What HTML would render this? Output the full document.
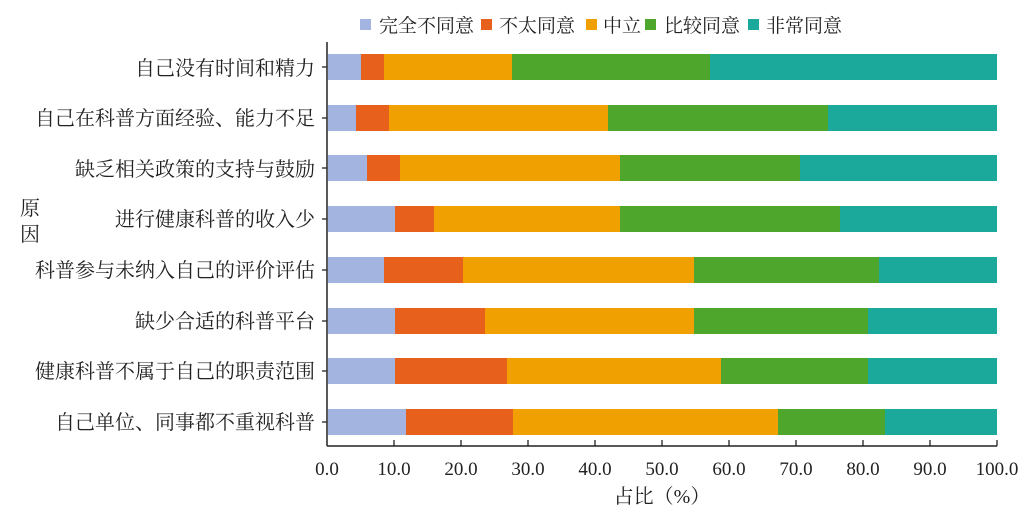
<!DOCTYPE html>
<html><head><meta charset="utf-8"><style>
body{margin:0;background:#fff;}
svg text{font-family:"Liberation Serif","Noto Serif CJK SC",serif;fill:#222;}
</style></head><body>
<svg width="1026" height="519" viewBox="0 0 1026 519" xmlns="http://www.w3.org/2000/svg">
<g font-size="19">
<rect x="360" y="19" width="11" height="11" fill="#a3b4e0"/><text x="379" y="32">完全不同意</text>
<rect x="481" y="19" width="11" height="11" fill="#e8611c"/><text x="499" y="32">不太同意</text>
<rect x="586" y="19" width="11" height="11" fill="#f0a000"/><text x="603" y="32">中立</text>
<rect x="645" y="19" width="11" height="11" fill="#4ea72c"/><text x="664" y="32">比较同意</text>
<rect x="748" y="19" width="11" height="11" fill="#1aa99a"/><text x="766" y="32">非常同意</text>
</g>
<g>
<rect x="328" y="54" width="33" height="26" fill="#a3b4e0"/><rect x="361" y="54" width="23" height="26" fill="#e8611c"/><rect x="384" y="54" width="128" height="26" fill="#f0a000"/><rect x="512" y="54" width="198" height="26" fill="#4ea72c"/><rect x="710" y="54" width="287" height="26" fill="#1aa99a"/>
<rect x="328" y="105" width="28" height="26" fill="#a3b4e0"/><rect x="356" y="105" width="33" height="26" fill="#e8611c"/><rect x="389" y="105" width="219" height="26" fill="#f0a000"/><rect x="608" y="105" width="220" height="26" fill="#4ea72c"/><rect x="828" y="105" width="169" height="26" fill="#1aa99a"/>
<rect x="328" y="155" width="39" height="26" fill="#a3b4e0"/><rect x="367" y="155" width="33" height="26" fill="#e8611c"/><rect x="400" y="155" width="220" height="26" fill="#f0a000"/><rect x="620" y="155" width="180" height="26" fill="#4ea72c"/><rect x="800" y="155" width="197" height="26" fill="#1aa99a"/>
<rect x="328" y="206" width="67" height="26" fill="#a3b4e0"/><rect x="395" y="206" width="39" height="26" fill="#e8611c"/><rect x="434" y="206" width="186" height="26" fill="#f0a000"/><rect x="620" y="206" width="220" height="26" fill="#4ea72c"/><rect x="840" y="206" width="157" height="26" fill="#1aa99a"/>
<rect x="328" y="257" width="56" height="26" fill="#a3b4e0"/><rect x="384" y="257" width="79" height="26" fill="#e8611c"/><rect x="463" y="257" width="231" height="26" fill="#f0a000"/><rect x="694" y="257" width="185" height="26" fill="#4ea72c"/><rect x="879" y="257" width="118" height="26" fill="#1aa99a"/>
<rect x="328" y="308" width="67" height="26" fill="#a3b4e0"/><rect x="395" y="308" width="90" height="26" fill="#e8611c"/><rect x="485" y="308" width="209" height="26" fill="#f0a000"/><rect x="694" y="308" width="174" height="26" fill="#4ea72c"/><rect x="868" y="308" width="129" height="26" fill="#1aa99a"/>
<rect x="328" y="358" width="67" height="26" fill="#a3b4e0"/><rect x="395" y="358" width="112" height="26" fill="#e8611c"/><rect x="507" y="358" width="214" height="26" fill="#f0a000"/><rect x="721" y="358" width="147" height="26" fill="#4ea72c"/><rect x="868" y="358" width="129" height="26" fill="#1aa99a"/>
<rect x="328" y="409" width="78" height="26" fill="#a3b4e0"/><rect x="406" y="409" width="107" height="26" fill="#e8611c"/><rect x="513" y="409" width="265" height="26" fill="#f0a000"/><rect x="778" y="409" width="107" height="26" fill="#4ea72c"/><rect x="885" y="409" width="112" height="26" fill="#1aa99a"/>
</g>
<g stroke="#222" stroke-width="1.3">
<line x1="322" y1="67" x2="327" y2="67"/><line x1="322" y1="118" x2="327" y2="118"/><line x1="322" y1="168" x2="327" y2="168"/><line x1="322" y1="219" x2="327" y2="219"/><line x1="322" y1="270" x2="327" y2="270"/><line x1="322" y1="321" x2="327" y2="321"/><line x1="322" y1="371" x2="327" y2="371"/><line x1="322" y1="422" x2="327" y2="422"/>
<line x1="394" y1="440" x2="394" y2="446"/><line x1="461" y1="440" x2="461" y2="446"/><line x1="528" y1="440" x2="528" y2="446"/><line x1="595" y1="440" x2="595" y2="446"/><line x1="662" y1="440" x2="662" y2="446"/><line x1="729" y1="440" x2="729" y2="446"/><line x1="796" y1="440" x2="796" y2="446"/><line x1="863" y1="440" x2="863" y2="446"/><line x1="930" y1="440" x2="930" y2="446"/><line x1="997" y1="440" x2="997" y2="446"/>
</g>
<g font-size="20" text-anchor="end">
<text x="315" y="75">自己没有时间和精力</text>
<text x="315" y="125">自己在科普方面经验、能力不足</text>
<text x="315" y="176">缺乏相关政策的支持与鼓励</text>
<text x="315" y="226">进行健康科普的收入少</text>
<text x="315" y="277">科普参与未纳入自己的评价评估</text>
<text x="315" y="328">缺少合适的科普平台</text>
<text x="315" y="378">健康科普不属于自己的职责范围</text>
<text x="315" y="429">自己单位、同事都不重视科普</text>
</g>
<g font-size="19" text-anchor="middle">
<text x="327" y="475">0.0</text><text x="394" y="475">10.0</text><text x="461" y="475">20.0</text><text x="528" y="475">30.0</text><text x="595" y="475">40.0</text><text x="662" y="475">50.0</text><text x="729" y="475">60.0</text><text x="796" y="475">70.0</text><text x="863" y="475">80.0</text><text x="930" y="475">90.0</text><text x="997" y="475">100.0</text>
</g>
<line x1="327" y1="42" x2="327" y2="446" stroke="#222" stroke-width="1.5"/>
<line x1="327" y1="446" x2="997" y2="446" stroke="#222" stroke-width="1.5"/>
<text x="30" y="215" font-size="20" text-anchor="middle">原</text>
<text x="30" y="241" font-size="20" text-anchor="middle">因</text>
<text x="662" y="503" font-size="20" text-anchor="middle">占比（%）</text>
</svg>
</body></html>
